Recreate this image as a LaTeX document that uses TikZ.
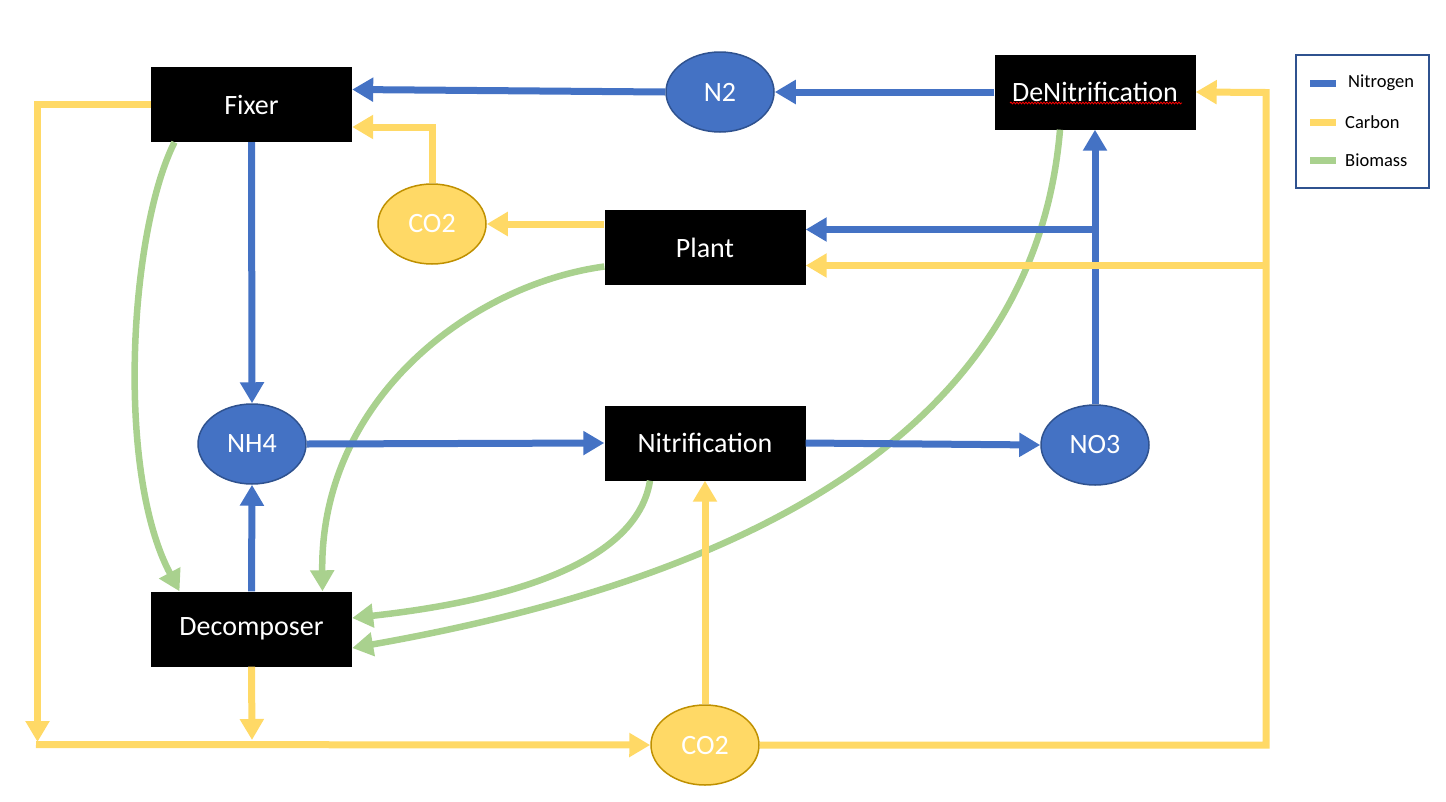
\documentclass[tikz,border=0pt]{standalone}
\usepackage{fontspec}
\setmainfont{Carlito}
\usetikzlibrary{arrows.meta,shapes.geometric,decorations.pathmorphing}
\definecolor{nblue}{HTML}{4472C4}
\definecolor{cyel}{HTML}{FFD966}
\definecolor{bgreen}{HTML}{A9D18E}
\definecolor{dblue}{HTML}{2F528F}
\definecolor{dgold}{HTML}{BF9000}
\begin{document}
\begin{tikzpicture}[x=1pt,y=-1pt,
  proc/.style={rectangle,fill=black,inner sep=0pt,minimum width=201pt,minimum height=75pt,text=white,font=\fontsize{28}{32}\selectfont},
  nell/.style={ellipse,inner sep=0pt,minimum width=108pt,minimum height=80pt,fill=nblue,draw=dblue,line width=1.5pt,text=white,font=\fontsize{28}{32}\selectfont},
  cell/.style={ellipse,inner sep=0pt,minimum width=108pt,minimum height=80pt,fill=cyel,draw=dgold,line width=1.5pt,text=white,font=\fontsize{28}{32}\selectfont},
  tip/.style={-{Triangle[length=21pt,width=23pt]}},
  nline/.style={draw=nblue,line width=7pt,tip},
  cline/.style={draw=cyel,line width=7pt,tip},
  bline/.style={draw=bgreen,line width=6.5pt,tip},
  legtext/.style={anchor=west,inner sep=0pt,font=\fontsize{18.5}{21}\selectfont}
]
\useasboundingbox (0,0) rectangle (1446,801);

% nodes
\node[proc] (Fixer) at (251.5,104.5) {Fixer};
\node[proc] (DeN) at (1095,92) {DeNitrification};
\node[proc] (Plant) at (705,247.5) {Plant};
\node[proc] (Nit) at (705,443) {Nitrification};
\node[proc] (Dec) at (251.5,629) {Decomposer};
\node[nell] (N2) at (720,92) {N2};
\node[nell] (NH4) at (252,444) {NH4};
\node[nell] (NO3) at (1095,445) {NO3};
\node[cell] (CO2a) at (432,224) {CO2};
\node[cell] (CO2b) at (705,745) {CO2};

% spell-check underline
\draw[red,line width=0.8pt,decorate,decoration={snake,amplitude=0.9pt,segment length=3pt}]
  ([xshift=-85pt,yshift=-11pt]DeN.center) -- ([xshift=87pt,yshift=-11pt]DeN.center);

% coordinates
\coordinate (j1) at (1095,229.5);
\coordinate (j2) at (1266,265.5);
\coordinate (rx) at (1266,92.5);
\coordinate (lb) at (37.5,742);
\coordinate (ll) at (36,744.5);
\coordinate (db) at (252,740);

% biomass curves (below)
\draw[bline] ([xshift=-77pt]Fixer.south) .. controls (130,230) and (115,470) .. ([xshift=-72pt]Dec.north);
\draw[bline] ([yshift=-19pt]Plant.west) .. controls (470,285) and (320,400) .. ([xshift=71pt]Dec.north);
\draw[bline] ([xshift=-55pt]Nit.south) .. controls (635,575) and (470,605) .. ([yshift=11pt]Dec.east);
\draw[bline] ([xshift=-35pt]DeN.south) .. controls (1040,370) and (850,560) .. ([yshift=-19pt]Dec.east);

% nitrogen
\draw[nline] (DeN.west) -- (N2.east);
\draw[nline] (N2.west) -- ([yshift=15pt]Fixer.east);
\draw[nline] (Fixer.south) -- (NH4.north);
\draw[nline] (Dec.north) -- (NH4.south);
\draw[nline] (NH4.east) -- (Nit.west);
\draw[nline] (Nit.east) -- (NO3.west);
\draw[nline] (NO3.north) -- (DeN.south);
\draw[nline] (j1) -- (j1 -| Plant.east);

% carbon
\draw[cline] (Fixer.west) -| (lb);
\draw[cline] (ll) -- (CO2b.west);
\draw[cline] (Dec.south) -- (db);
\draw[cline] (CO2b.north) -- (Nit.south);
\draw[cline] (CO2b.east) -| (rx) -- (DeN.east);
\draw[cline] (j2) -- (j2 -| Plant.east);
\draw[cline] (Plant.west |- CO2a.east) -- (CO2a.east);
\draw[cline] (CO2a.north) |- ([yshift=-22.5pt]Fixer.east);

% legend
\node[draw=dblue,line width=2pt,minimum width=133pt,minimum height=133pt,inner sep=0pt] (leg) at (1362.5,121.5) {};
\coordinate (l1) at (1310,83);
\coordinate (l2) at (1310,122.5);
\coordinate (l3) at (1310,160.5);
\draw[nblue,line width=7pt] (l1) -- ++(26,0);
\draw[cyel,line width=7pt] (l2) -- ++(26,0);
\draw[bgreen,line width=7pt] (l3) -- ++(26,0);
\node[legtext] (t1) at (1348,83) {Nitrogen};
\node[legtext] (t2) at (1345,122.5) {Carbon};
\node[legtext] (t3) at (1345,160.5) {Biomass};
\end{tikzpicture}
\end{document}
